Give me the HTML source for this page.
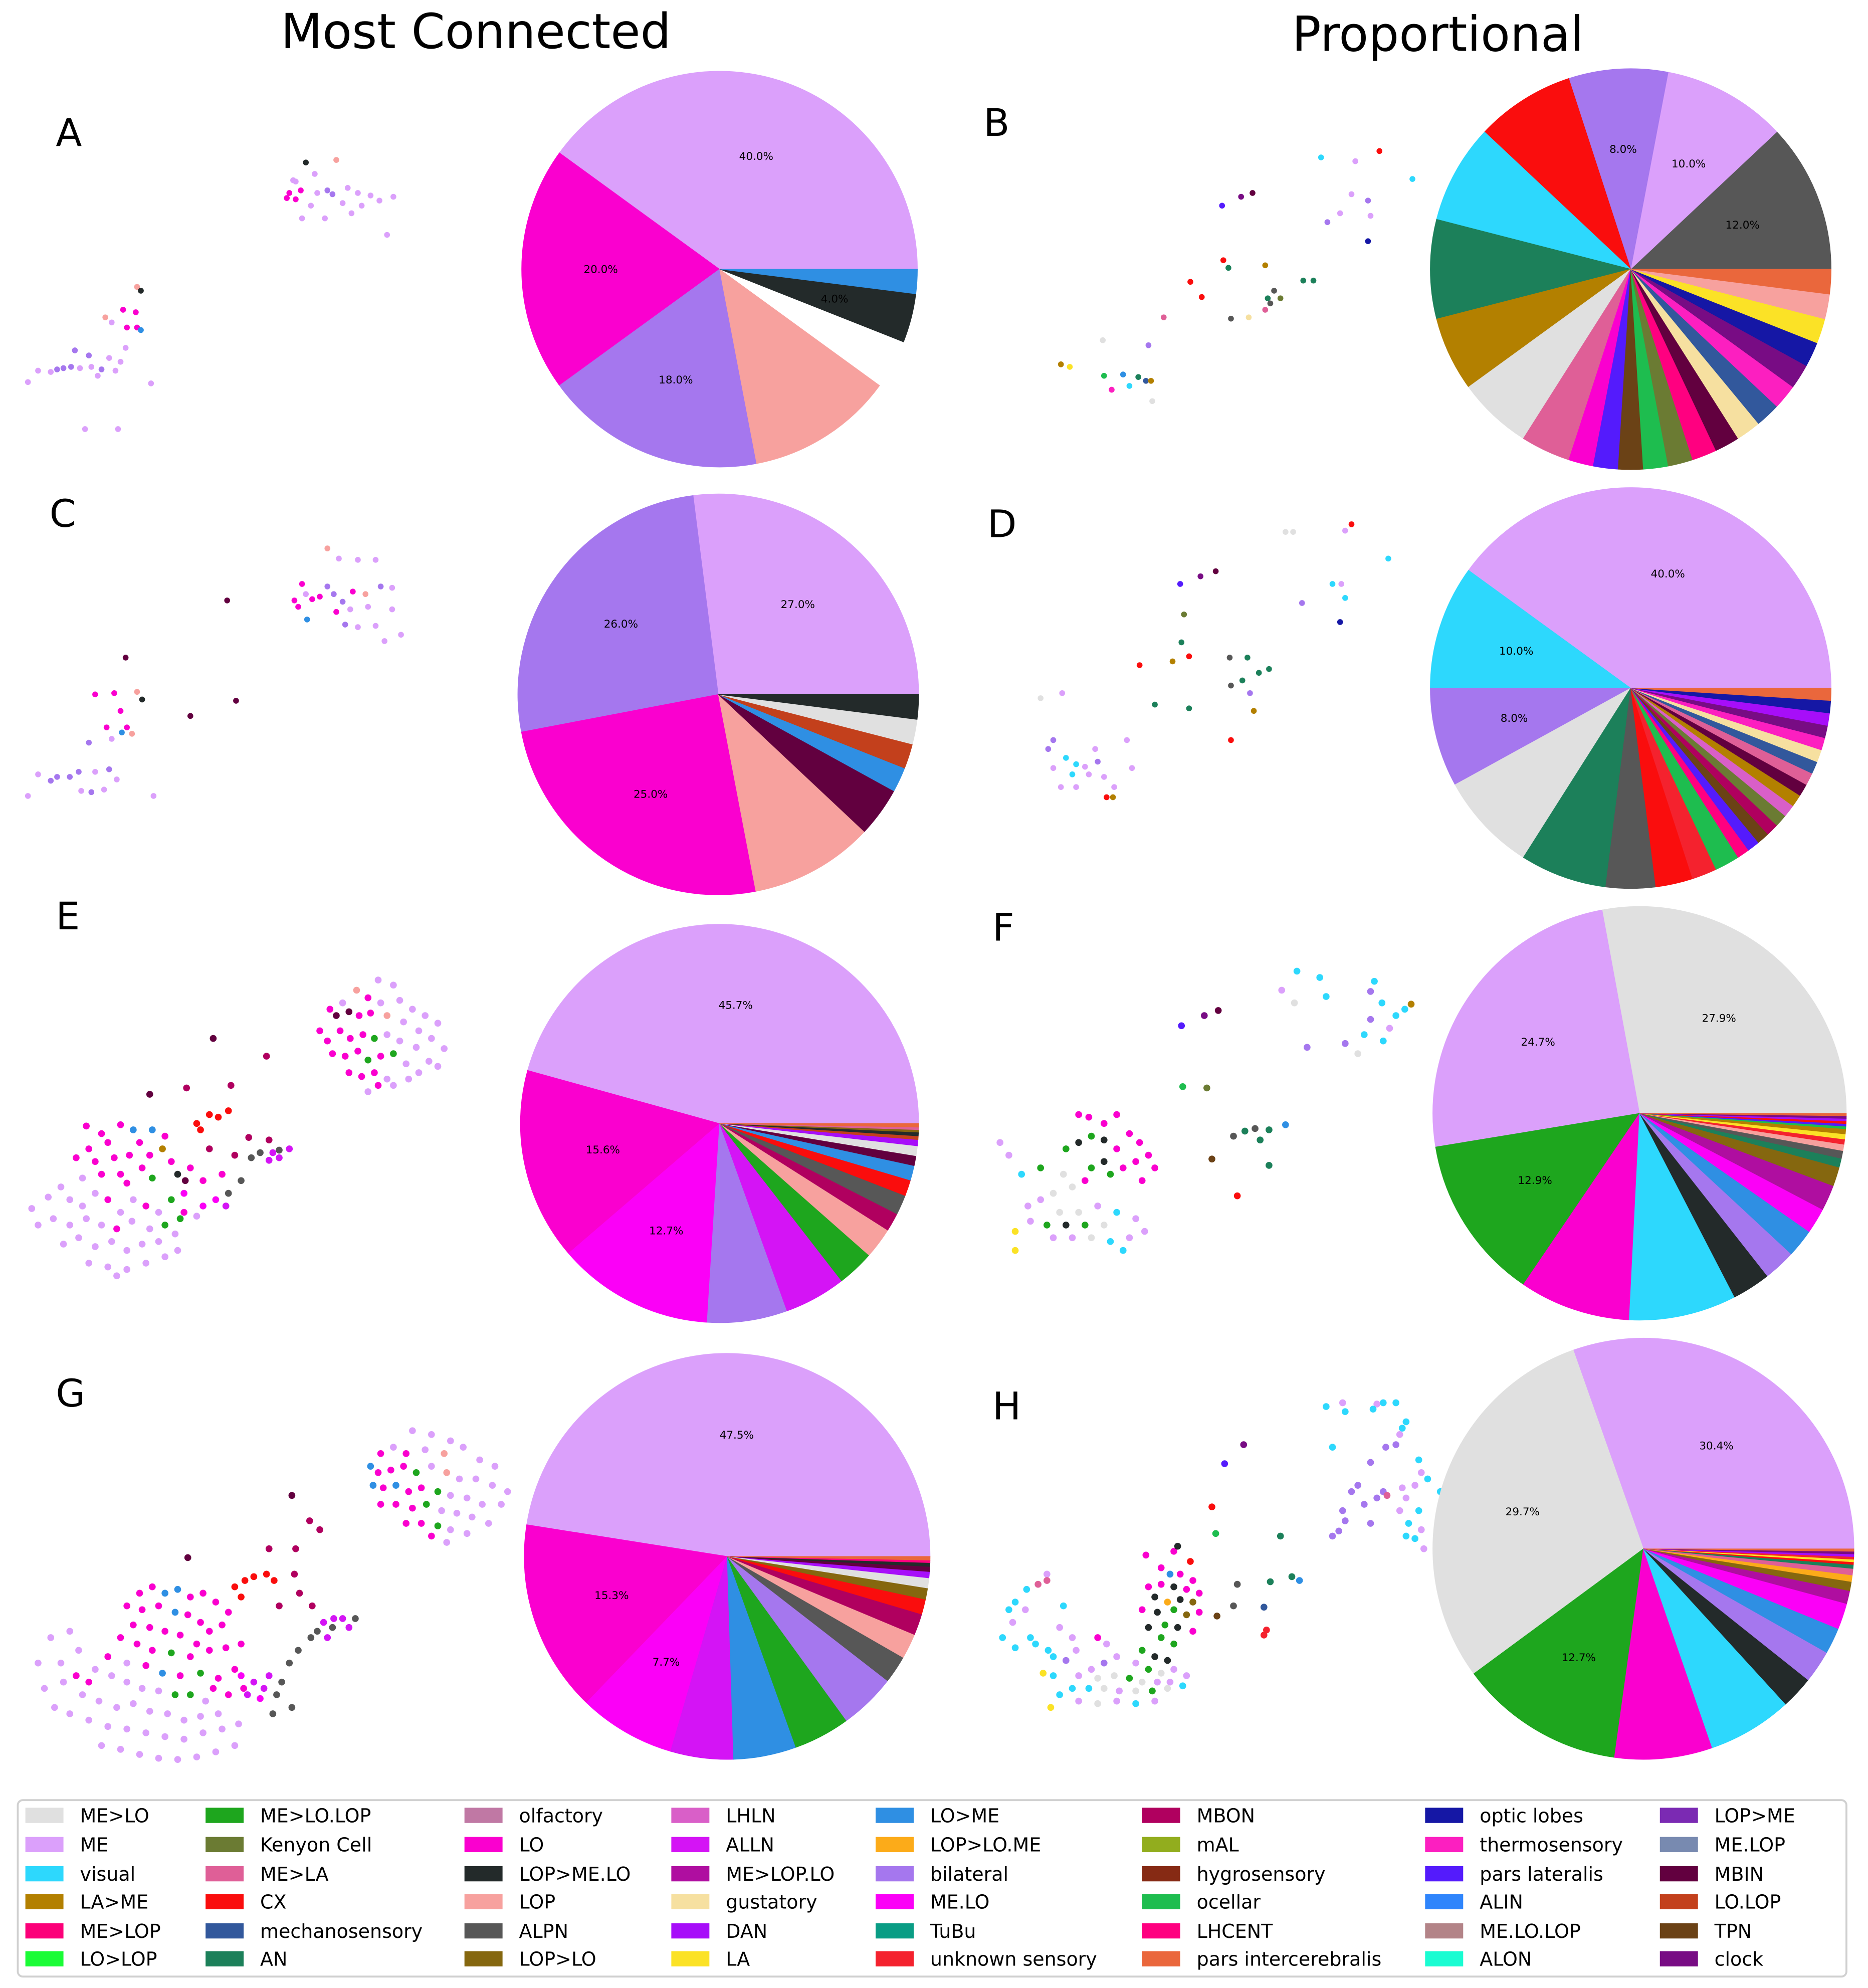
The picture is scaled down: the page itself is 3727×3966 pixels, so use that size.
<!DOCTYPE html>
<html><head><meta charset="utf-8">
<style>
html,body{margin:0;padding:0;background:#fff;}
svg{display:block;}
text{font-family:"DejaVu Sans","Liberation Sans",sans-serif;}
</style></head>
<body>
<svg id="fig" xmlns="http://www.w3.org/2000/svg" width="3727" height="3966" viewBox="0 0 1472 1566" preserveAspectRatio="none">
  <rect x="0" y="0" width="1472" height="1566" fill="#fff"/>
  <text x="375" y="38" font-size="38" text-anchor="middle">Most Connected</text>
  <text x="1133" y="40" font-size="38" text-anchor="middle">Proportional</text>
  <g id="scatters"></g>
  <g id="pies"></g>
  <g id="letters"></g>
  <g id="legend">
    <rect x="14" y="1418" width="1441" height="139" rx="4" fill="#fff" stroke="#d0d0d0" stroke-width="1.5"/>
  </g>
</svg>
<script>
// ---- color keys ----
const colorKeys = {m:'#dba0fb',l:'#fa00cf',b:'#a577ee',p:'#f7a19e',k:'#232a2a',u:'#2f8fe3',w:'#e0e0e0',v:'#2dd8fd',g:'#1ea61e',n:'#1c805a',a:'#575757',x:'#fa0d0d',e:'#fb00f7',d:'#d414f5',o:'#b0005f',i:'#62003f',t:'#85670f',r:'#df5f97',h:'#ff0080',y:'#fbe226',q:'#1517a5',s:'#fc1fc0',c:'#780c84',z:'#541bfc',L:'#c3401c',T:'#6b4216',O:'#1ebd4f',K:'#6b7b33',M:'#32589c',G:'#f6e0a0',P:'#ea673c',A:'#b38000',U:'#f4222e',D:'#a70ef9',R:'#af0ea0',S:'#fcab19',H:'#d95fc8',E:'#fc0079',N:'none'};

// ---- legend data ----
const legendNames = ['ME>LO','ME','visual','LA>ME','ME>LOP','LO>LOP','ME>LO.LOP','Kenyon Cell','ME>LA','CX','mechanosensory','AN','olfactory','LO','LOP>ME.LO','LOP','ALPN','LOP>LO','LHLN','ALLN','ME>LOP.LO','gustatory','DAN','LA','LO>ME','LOP>LO.ME','bilateral','ME.LO','TuBu','unknown sensory','MBON','mAL','hygrosensory','ocellar','LHCENT','pars intercerebralis','optic lobes','thermosensory','pars lateralis','ALIN','ME.LO.LOP','ALON','LOP>ME','ME.LOP','MBIN','LO.LOP','TPN','clock'];
const legendColors = ['#e0e0e0','#dba0fb','#2dd8fd','#b38000','#fc0079','#1afc36','#1ea61e','#6b7b33','#df5f97','#fa0d0d','#32589c','#1c805a','#c078a4','#fa00cf','#232a2a','#f7a19e','#575757','#85670f','#d95fc8','#d414f5','#af0ea0','#f6e0a0','#a70ef9','#fbe226','#2f8fe3','#fcab19','#a577ee','#fb00f7','#0a9d85','#f4222e','#b0005f','#92ad1e','#862a14','#1ebd4f','#ff0080','#ea673c','#1517a5','#fc1fc0','#541bfc','#2f85fc','#b38488','#1afcd2','#7b2ab3','#788ab0','#62003f','#c3401c','#6b4216','#780c84'];

// ---- pie data (values in %, colour keys, counter-clockwise from east) ----
const pieAValues = [40,20,18,12,4,4,2];
const pieAColors = ['m','l','b','p','N','k','u'];
const pieBValues = [12,10,8,8,8,8,6,6,4,2,2,2,2,2,2,2,2,2,2,2,2,2,2,2];
const pieBColors = ['a','m','b','x','v','n','A','w','r','l','z','T','O','K','h','i','G','M','s','c','q','y','p','P'];
const pieCValues = [27,26,25,10,4,2,2,2,2];
const pieCColors = ['m','b','l','p','i','u','L','w','k'];
const pieDValues = [40,10,8,8,7,4,3,2,2,1,1,1,1,1,1,1,1,1,1,1,1,1,1,1,1];
const pieDColors = ['m','v','b','w','n','a','x','U','O','h','z','T','o','K','H','A','i','r','M','G','s','c','D','q','P'];
const pieEValues = [45.7,15.6,12.7,6.5,5,3,2.5,1.5,1.6,1.3,1.2,0.8,0.8,0.5,0.3,0.3,0.2,0.2,0.3];
const pieEColors = ['m','l','e','b','d','g','p','o','a','x','u','i','w','D','L','k','t','r','P'];
const pieFValues = [27.9,24.7,12.9,8.7,8.4,3,2.5,2.2,2,2,1.5,0.7,0.6,0.5,0.4,0.4,0.4,0.2,0.2,0.2,0.2,0.2,0.2];
const pieFColors = ['w','m','g','l','v','k','b','u','e','R','t','n','a','p','U','y','A','O','z','x','D','c','P'];
const pieGValues = [47.5,15.3,7.7,5,5,4.5,4.5,2.2,2,1.7,1.2,0.9,0.8,0.5,0.4,0.3,0.2,0.3];
const pieGColors = ['m','l','e','d','u','g','b','a','p','o','x','t','w','D','i','k','h','P'];
const pieHValues = [30.4,29.7,12.7,7.5,6.5,2.5,2.5,2,2,1,0.7,0.5,0.5,0.3,0.2,0.2,0.2,0.2,0.2,0.2];
const pieHColors = ['m','w','g','l','v','k','b','u','e','R','t','S','r','n','x','y','U','D','c','P'];
const pieALabels = [0,1,2,5];
const pieBLabels = [0,1,2];
const pieCLabels = [0,1,2];
const pieDLabels = [0,1,2];
const pieELabels = [0,1,2];
const pieFLabels = [0,1,2];
const pieGLabels = [0,1,2];
const pieHLabels = [0,1,2];

// ---- scatter data: "x y colourKey" ----
const scatterA = "241 128 k;265 126 p;248 137 m;233 143 m;228 152 l;233 157 l;237 150 l;226 156 l;258 150 b;262 153 b;250 152 m;274 148 m;282 152 m;292 154 m;299 158 m;310 155 m;305 185 m;277 168 m;256 172 m;270 160 m;285 162 m;245 162 m;238 172 m;231 142 m;108 226 p;111 229 k;97 244 l;107 246 l;100 258 l;108 258 l;111 260 u;83 250 p;88 254 m;70 280 b;59 276 b;45 291 b;50 290 b;56 289 b;63 290 m;72 289 m;80 291 b;86 282 m;95 285 m;91 292 m;77 296 m;40 293 m;22 301 m;119 302 m;67 338 m;93 338 m;30 292 m;99 274 m";
const scatterB = "1087 119 x;1041 124 v;1068 127 m;1113 141 v;987 152 i;978 155 c;963 162 z;1065 153 m;1078 158 b;1080 170 m;1046 175 b;1056 168 m;1078 190 q;964 205 x;968 211 n;997 209 A;1027 221 n;1035 221 n;938 222 x;947 234 x;1004 229 a;999 235 n;1009 235 K;997 244 r;984 250 G;970 251 a;1001 239 a;917 250 r;905 272 b;869 268 w;836 287 A;843 289 y;870 296 O;885 295 u;897 297 n;903 300 M;876 307 s;890 304 v;907 300 A;908 316 w";
const scatterC = "258 432 p;267 440 m;282 441 m;296 441 m;238 460 l;241 468 m;232 473 l;235 478 l;242 488 u;258 462 b;263 468 b;270 474 b;278 466 l;288 468 p;300 462 b;309 463 m;290 478 m;276 480 m;265 482 l;272 492 b;282 494 m;296 493 m;309 480 m;316 500 m;303 505 m;252 470 l;246 472 l;179 473 i;186 552 i;150 564 i;99 518 i;108 545 p;112 551 k;75 547 l;90 546 l;95 560 l;84 573 l;100 573 l;96 577 u;104 578 p;88 582 m;70 585 b;62 608 b;45 612 b;55 612 b;75 608 m;86 606 b;92 614 m;64 623 m;40 615 b;22 627 m;121 627 m;72 624 b;82 622 m;30 610 m";
const scatterD = "1065 413 x;1013 419 w;1019 419 w;1060 418 m;1094 440 v;958 450 i;946 454 c;930 460 z;1050 460 v;1057 460 m;1060 471 v;1026 475 b;1056 490 q;933 484 K;931 506 n;937 517 x;924 521 A;898 524 x;969 518 a;983 518 n;992 530 n;1000 527 n;970 540 a;979 536 n;985 546 b;910 555 n;937 558 n;988 560 A;970 583 x;820 550 w;837 546 m;830 583 b;826 590 b;840 597 v;848 602 v;855 604 m;865 600 b;858 610 m;836 620 m;848 620 m;878 620 m;877 628 A;888 583 m;892 605 m;863 590 m;870 612 m;845 610 v;830 605 m;872 628 x";
const scatterE = "298 772 m;310 776 m;281 780 p;270 790 m;290 786 l;300 790 m;315 788 m;325 795 m;335 800 m;345 806 m;260 795 l;265 800 i;275 797 i;283 800 l;292 798 l;305 800 p;318 805 m;330 812 m;340 818 m;350 826 m;252 812 l;258 820 l;268 812 l;276 818 l;286 815 l;295 818 g;305 815 m;315 820 m;328 825 m;338 836 m;262 830 l;272 832 l;282 828 l;290 835 g;300 832 l;310 830 g;320 838 m;330 845 m;345 840 m;275 845 l;285 848 l;295 845 l;305 850 m;298 855 l;310 855 m;322 850 m;290 860 m;68 887 l;80 893 l;95 886 l;105 890 u;120 890 u;130 895 l;110 900 l;85 900 l;70 905 l;60 912 l;75 915 l;90 912 l;102 910 l;118 910 l;128 905 A;135 915 l;112 920 l;95 925 l;80 925 l;65 928 m;100 932 l;120 928 g;140 925 k;146 930 i;25 952 m;38 943 m;48 935 m;55 945 m;65 950 m;75 940 m;85 945 l;95 955 m;105 945 m;115 950 l;125 955 m;135 945 g;145 955 l;160 950 e;170 945 e;178 950 d;30 965 m;42 960 m;55 965 m;68 960 m;80 965 m;92 968 l;104 962 m;118 968 m;130 965 g;142 960 g;155 958 m;50 980 m;62 975 m;75 982 m;88 978 m;100 985 m;112 980 m;125 978 m;138 972 m;70 995 m;85 998 m;100 1000 m;115 995 m;130 990 m;140 985 m;92 1005 m;155 885 x;165 878 x;172 880 x;180 875 x;158 890 x;118 862 i;147 857 o;182 855 o;210 832 o;168 818 i;212 898 o;196 896 o;185 910 o;165 905 o;198 912 a;205 908 a;220 906 a;190 930 a;180 940 a;215 908 d;220 912 d;228 905 d;212 914 d;150 920 l;160 930 l;175 925 l;145 940 e";
const scatterF = "1022 765 v;1040 770 v;1010 780 m;1083 773 v;1080 781 b;1089 790 v;1100 800 v;1107 795 v;1095 810 m;1080 803 b;1090 820 v;1075 815 v;1030 825 b;1060 822 b;1045 785 v;1112 791 A;1020 790 w;1070 830 w;960 796 i;949 800 c;931 808 z;932 856 O;951 857 K;989 889 a;981 891 n;1000 890 n;1013 886 u;993 898 n;972 895 a;955 913 T;1000 918 n;975 942 x;850 878 l;858 880 l;870 885 l;880 878 l;890 893 l;898 900 l;905 910 l;910 920 l;895 915 l;880 905 l;870 898 k;860 895 g;850 900 k;840 905 g;870 915 k;860 920 g;885 920 l;900 930 l;875 925 g;855 930 l;845 935 w;830 940 w;820 945 m;810 950 m;835 955 w;850 955 w;865 950 m;880 955 v;895 960 m;870 965 w;855 965 g;840 965 k;825 965 g;812 962 m;800 970 y;830 975 m;845 975 m;860 975 w;875 978 v;890 975 m;902 970 m;885 985 v;800 985 y;788 900 m;795 910 m;805 925 v;820 920 g;838 925 w";
const scatterG = "325 1127 m;340 1130 m;355 1135 m;300 1145 l;310 1140 m;320 1145 l;335 1142 m;350 1145 p;365 1140 m;378 1150 m;390 1155 m;292 1155 u;298 1160 l;308 1158 l;318 1155 l;328 1160 g;340 1155 m;352 1160 p;362 1165 m;375 1165 m;388 1170 m;400 1175 m;294 1170 u;302 1172 l;312 1170 u;322 1175 l;332 1172 l;345 1175 g;355 1178 m;368 1180 m;380 1185 m;395 1185 m;300 1185 l;312 1185 l;325 1188 l;336 1185 g;348 1190 m;360 1192 m;372 1195 m;385 1200 m;320 1200 l;332 1200 l;345 1202 g;355 1205 m;368 1208 m;340 1210 l;352 1215 m;255 1278 d;263 1275 d;270 1275 d;275 1282 d;262 1282 a;250 1285 a;245 1290 a;258 1290 d;280 1275 a;235 1300 a;228 1310 a;222 1325 a;218 1335 a;230 1345 a;215 1350 a;200 1325 d;208 1330 d;212 1320 d;195 1335 d;205 1338 e;190 1320 e;185 1250 x;193 1245 x;200 1242 x;210 1240 x;216 1245 x;190 1258 x;148 1227 i;230 1178 i;244 1198 o;252 1205 o;212 1220 o;233 1220 o;232 1240 o;236 1255 o;220 1265 o;246 1265 o;110 1255 l;120 1250 l;130 1255 u;140 1252 u;150 1258 l;160 1255 l;170 1262 l;180 1270 l;175 1280 l;165 1285 l;100 1265 l;112 1268 l;125 1265 l;138 1270 u;148 1272 l;158 1278 l;105 1280 l;118 1282 l;130 1285 l;142 1288 l;155 1295 l;95 1290 l;108 1295 l;120 1300 l;135 1302 g;150 1305 l;165 1300 l;178 1298 l;190 1295 l;85 1305 l;100 1310 m;115 1312 l;128 1318 u;142 1320 l;158 1318 g;172 1322 l;185 1315 l;40 1290 m;55 1285 m;48 1310 m;62 1300 m;75 1315 m;88 1320 m;100 1325 m;112 1330 m;125 1332 m;138 1335 g;150 1335 g;162 1340 m;35 1330 m;50 1325 m;65 1335 m;78 1340 m;92 1345 m;105 1342 m;118 1348 m;132 1350 m;145 1355 m;158 1352 m;172 1350 m;55 1350 m;70 1355 m;85 1360 m;100 1362 m;115 1365 m;130 1368 m;145 1370 m;160 1365 m;175 1362 m;188 1358 m;80 1375 m;95 1378 m;110 1382 m;125 1385 m;140 1386 m;155 1384 m;170 1380 m;185 1375 m;60 1320 l;70 1325 l;168 1330 l;180 1335 l;192 1330 l;43 1345 m;30 1310 m";
const scatterH = "1045 1108 v;1058 1105 m;1060 1112 v;1085 1106 m;1090 1105 v;1100 1105 v;1082 1110 v;1108 1120 v;1105 1125 v;1103 1130 m;1092 1140 b;1100 1138 b;1118 1150 v;1120 1160 m;1125 1165 v;1115 1170 m;1105 1172 m;1080 1152 b;1050 1140 v;1090 1175 b;1085 1180 b;1093 1178 r;1108 1180 m;1070 1170 b;1065 1175 b;1075 1185 b;1058 1190 b;1060 1198 b;1055 1206 b;1050 1210 b;1080 1200 b;1103 1190 m;1110 1200 v;1118 1190 v;1120 1205 m;1108 1210 v;1115 1212 v;1122 1220 m;1135 1175 v;980 1138 c;965 1153 z;955 1187 x;958 1208 O;1009 1210 n;1001 1246 n;1018 1242 n;1024 1245 u;975 1248 a;972 1265 a;996 1266 M;959 1273 T;998 1284 U;996 1288 U;825 1240 m;818 1248 r;809 1252 v;800 1262 v;795 1268 v;808 1268 m;798 1278 m;790 1290 v;812 1290 v;800 1298 v;825 1245 r;903 1225 l;925 1222 l;928 1218 k;938 1230 x;915 1235 l;922 1240 u;930 1240 l;940 1245 l;905 1250 l;915 1248 l;925 1250 k;935 1252 l;945 1255 l;910 1258 k;920 1262 S;930 1260 k;940 1262 t;900 1268 l;912 1270 k;925 1268 g;935 1272 t;945 1270 l;918 1280 g;905 1282 k;928 1282 k;940 1285 l;915 1290 g;925 1295 g;900 1300 g;910 1305 k;920 1308 k;895 1310 m;905 1315 g;915 1318 w;925 1315 m;880 1305 m;870 1310 b;860 1315 m;850 1320 m;865 1322 w;878 1320 w;890 1322 g;900 1325 w;912 1325 m;922 1325 m;935 1320 m;845 1330 v;858 1330 v;870 1330 w;882 1332 m;895 1332 w;908 1332 g;920 1330 w;932 1328 v;850 1340 m;865 1342 w;880 1340 m;895 1342 v;910 1340 m;830 1320 v;835 1335 v;826 1300 v;840 1308 b;845 1290 m;835 1282 m;830 1305 v;848 1300 m;865 1290 l;872 1295 m;822 1318 y;828 1345 y;816 1295 v;838 1265 v";

const NS = 'http://www.w3.org/2000/svg';
function mk(tag, parent){ const el = document.createElementNS(NS, tag); parent.appendChild(el); return el; }

// ---- scatters ----
const scatterLayer = document.getElementById('scatters');
function drawScatter(name, str, rad){
  const g = mk('g', scatterLayer);
  
  
  str.split(';').forEach(tok => {
    const parts = tok.trim().split(/\s+/);
    if (parts.length < 3) return;
    const c = mk('circle', g);
    
    
    c.setAttribute('cx', parts[0]);
    c.setAttribute('cy', parts[1]);
    c.setAttribute('r', rad);
    c.setAttribute('fill', colorKeys[parts[2]] || '#999');
  });
}
drawScatter('scatter-a', scatterA, 2.3);
drawScatter('scatter-b', scatterB, 2.3);
drawScatter('scatter-c', scatterC, 2.3);
drawScatter('scatter-d', scatterD, 2.3);
drawScatter('scatter-e', scatterE, 2.7);
drawScatter('scatter-f', scatterF, 2.7);
drawScatter('scatter-g', scatterG, 2.7);
drawScatter('scatter-h', scatterH, 2.7);

// ---- pies ----
const pieLayer = document.getElementById('pies');
function drawPie(name, cx, cy, r, values, keys, labelIdx){
  const g = mk('g', pieLayer);
  
  
  const total = values.reduce((s,v)=>s+v,0);
  let a0 = 0;
  values.forEach((v,i) => {
    const sweep = v/total*360;
    const a1 = a0 + sweep;
    const col = colorKeys[keys[i]];
    if (col !== 'none') {
      const t0 = a0*Math.PI/180, t1 = a1*Math.PI/180;
      const x0 = cx + r*Math.cos(t0), y0 = cy - r*Math.sin(t0);
      const x1 = cx + r*Math.cos(t1), y1 = cy - r*Math.sin(t1);
      const large = sweep > 180 ? 1 : 0;
      const p = mk('path', g);
      
      
      p.setAttribute('d', `M${cx},${cy} L${x0},${y0} A${r},${r} 0 ${large} 0 ${x1},${y1} Z`);
      p.setAttribute('fill', col);
      p.setAttribute('stroke', col);
      p.setAttribute('stroke-width', '0.3');
    }
    if (labelIdx.indexOf(i) >= 0) {
      const tm = (a0 + sweep/2)*Math.PI/180;
      const t = mk('text', g);
      
      
      t.setAttribute('x', cx + 0.6*r*Math.cos(tm));
      t.setAttribute('y', cy - 0.6*r*Math.sin(tm) + 3);
      t.setAttribute('font-size', '8.5');
      t.setAttribute('text-anchor', 'middle');
      t.textContent = (v/total*100).toFixed(1) + '%';
    }
    a0 = a1;
  });
}
drawPie('pie-a', 567, 212, 156, pieAValues, pieAColors, pieALabels);
drawPie('pie-b', 1285, 212, 158, pieBValues, pieBColors, pieBLabels);
drawPie('pie-c', 566, 547, 158, pieCValues, pieCColors, pieCLabels);
drawPie('pie-d', 1285, 542, 158, pieDValues, pieDColors, pieDLabels);
drawPie('pie-e', 567, 885, 157, pieEValues, pieEColors, pieELabels);
drawPie('pie-f', 1292, 877, 163, pieFValues, pieFColors, pieFLabels);
drawPie('pie-g', 573, 1226, 160, pieGValues, pieGColors, pieGLabels);
drawPie('pie-h', 1295, 1220, 166, pieHValues, pieHColors, pieHLabels);

// ---- panel letters ----
const letterNames = ['A','B','C','D','E','F','G','H'];
const letterX = [44,775,39,778,44,782,44,782];
const letterY = [115,107,415,423,732,741,1108,1118];
const letterLayer = document.getElementById('letters');
letterNames.forEach((L,i) => {
  const t = mk('text', letterLayer);
  
  
  t.setAttribute('x', letterX[i]);
  t.setAttribute('y', letterY[i]);
  t.setAttribute('font-size', '30');
  t.textContent = L;
});

// ---- legend ----
const legendColX = [20,162,366,529,690,900,1123,1308];
const legendRowY = [1430,1453,1476,1498,1521,1543];
const legendLayer = document.getElementById('legend');
legendNames.forEach((nm,i) => {
  const col = Math.floor(i/6), row = i%6;
  const g = mk('g', legendLayer);
  
  
  const sw = mk('rect', g);
  
  
  sw.setAttribute('x', legendColX[col]);
  sw.setAttribute('y', legendRowY[row] - 6);
  sw.setAttribute('width', 30);
  sw.setAttribute('height', 12);
  sw.setAttribute('fill', legendColors[i]);
  const t = mk('text', g);
  
  
  t.setAttribute('x', legendColX[col] + 43);
  t.setAttribute('y', legendRowY[row] + 5.5);
  t.setAttribute('font-size', '15');
  t.textContent = nm;
});
</script>
</body></html>
